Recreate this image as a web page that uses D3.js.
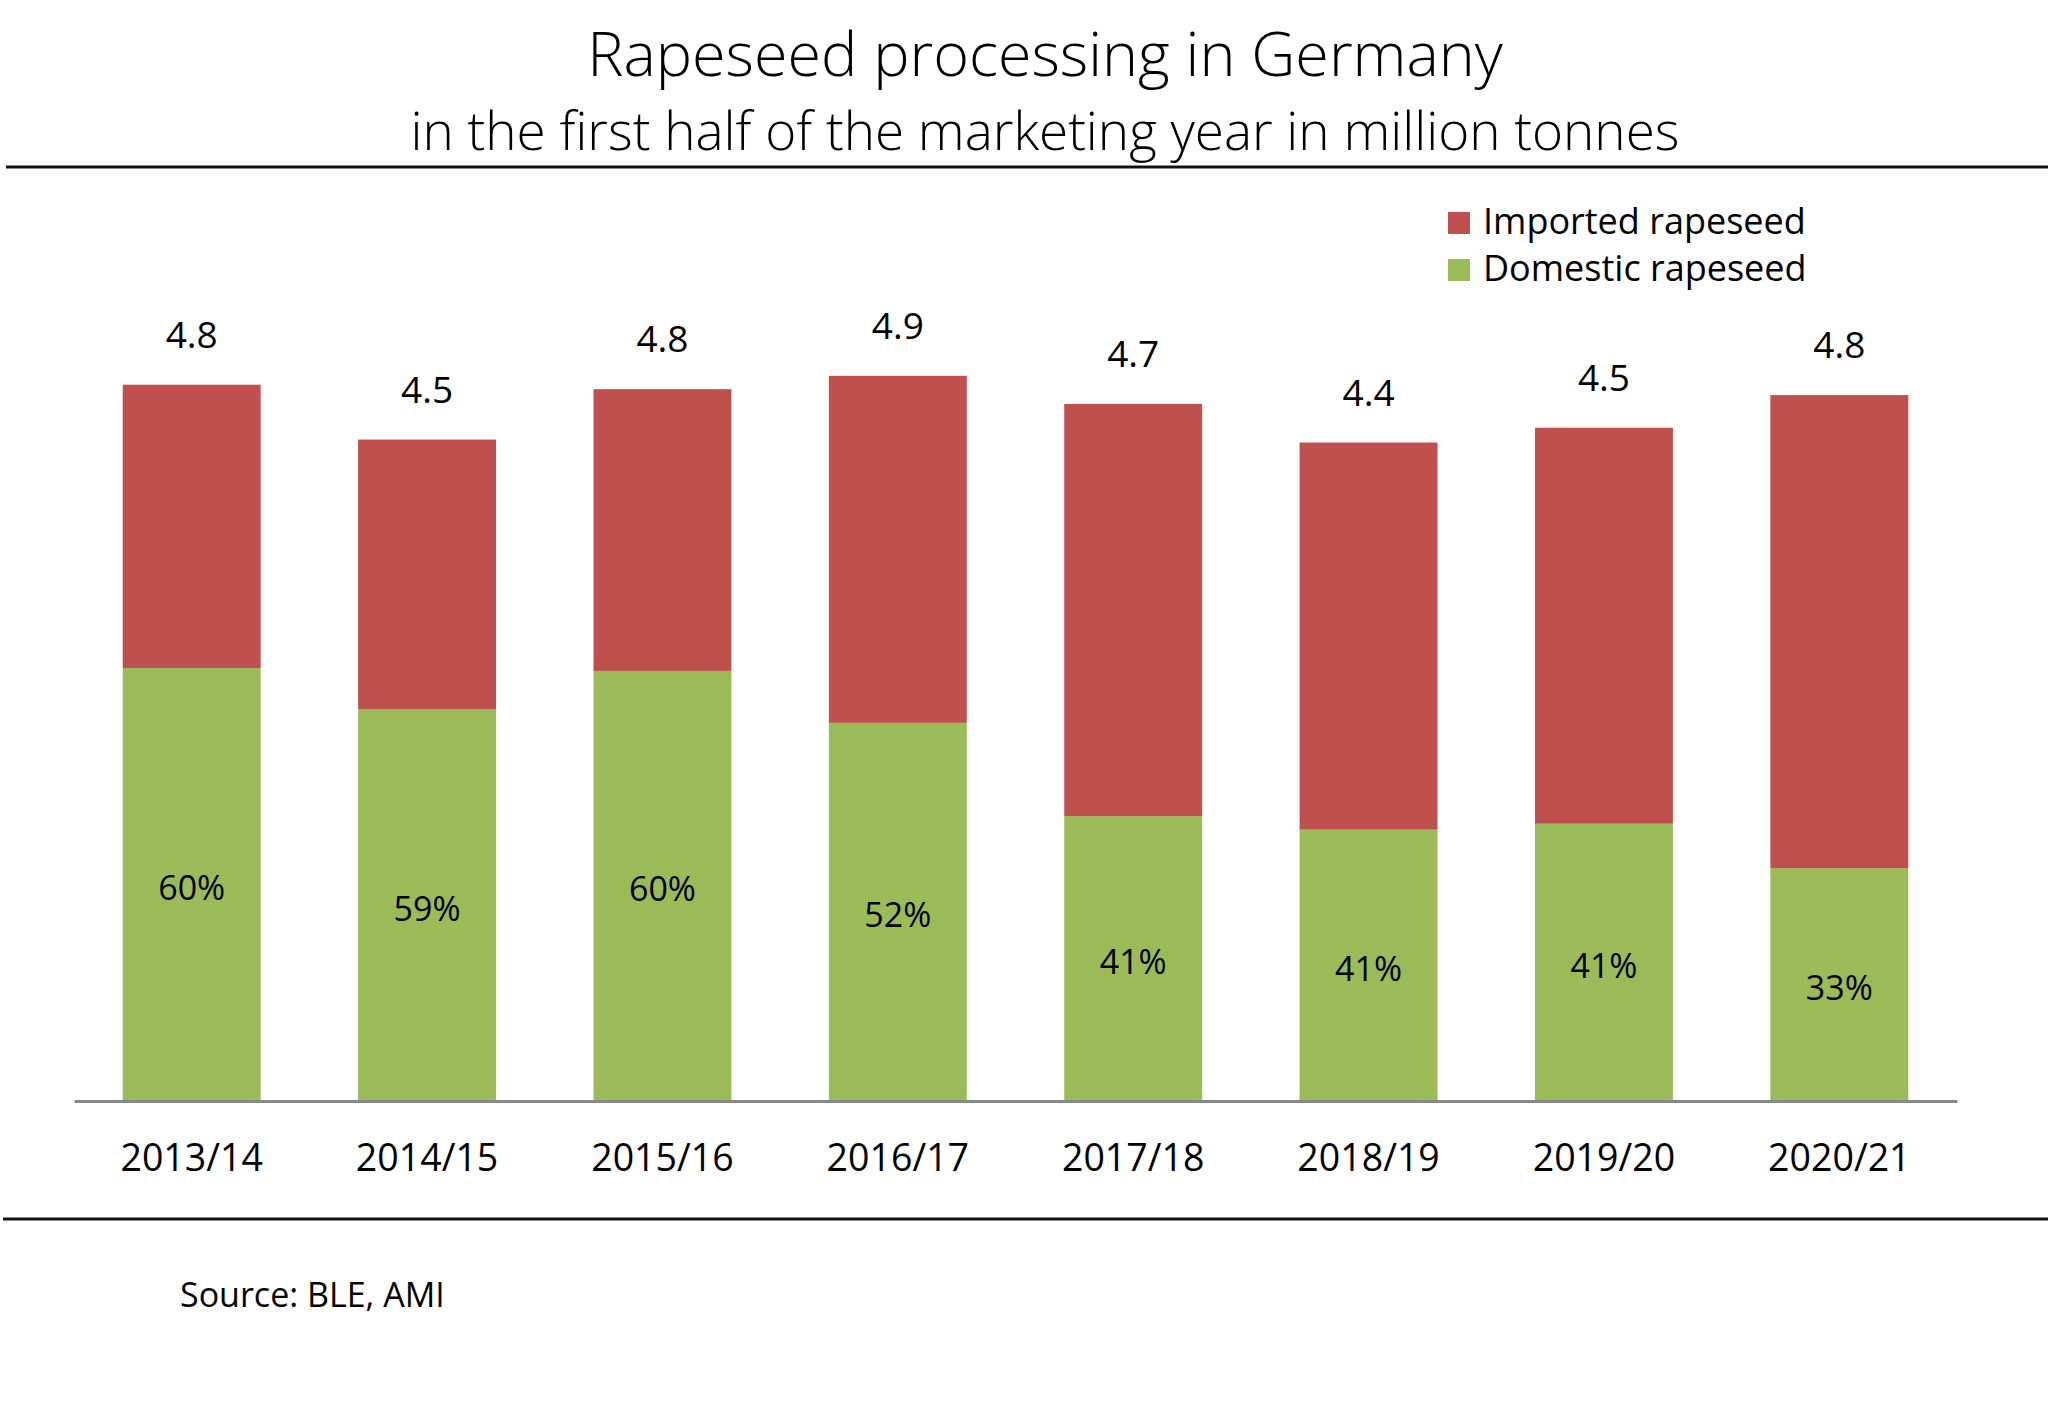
<!DOCTYPE html>
<html>
<head>
<meta charset="utf-8">
<script src="https://cdn.jsdelivr.net/npm/d3@7"></script>
<style>
  body { margin: 0; background: #fff; }
  svg { display: block; font-family: "Open Sans", sans-serif; }
</style>
</head>
<body>
<div id="chart"></div>
<script>
// Marketing years (x categories)
const years = ["2013/14", "2014/15", "2015/16", "2016/17", "2017/18", "2018/19", "2019/20", "2020/21"];

// Million tonnes processed
const domestic = [2.92, 2.64, 2.90, 2.55, 1.92, 1.83, 1.87, 1.57];
const imported = [1.91, 1.82, 1.90, 2.34, 2.78, 2.61, 2.67, 3.19];

const seriesNames = ["Domestic rapeseed", "Imported rapeseed"];
const legendOrder = ["Imported rapeseed", "Domestic rapeseed"];

const width = 2048, height = 1407;
const colors = { "Domestic rapeseed": "#9bbb59", "Imported rapeseed": "#c0504d" };

const svg = d3.select("#chart").append("svg")
    .attr("width", width)
    .attr("height", height);

svg.append("rect").attr("width", width).attr("height", height).attr("fill", "#fff");

// Title block
svg.append("text")
    .attr("x", 1045).attr("y", 76)
    .attr("text-anchor", "middle")
    .style("font-size", "61px").style("font-weight", 300)
    .text("Rapeseed processing in Germany");

svg.append("text")
    .attr("x", 1045).attr("y", 150)
    .attr("text-anchor", "middle")
    .style("font-size", "53px").style("font-weight", 300)
    .text("in the first half of the marketing year in million tonnes");

svg.append("line")
    .attr("x1", 6).attr("x2", width).attr("y1", 167).attr("y2", 167)
    .attr("stroke", "#111").attr("stroke-width", 3);

// Scales
const x = d3.scaleBand()
    .domain(years)
    .range([74, 1957])
    .paddingInner(0.414)
    .paddingOuter(0.207);

const y = d3.scaleLinear()
    .domain([0, 5])
    .range([1101, 1101 - 5 * 148.3]);

// Stack domestic at the bottom, imported on top
const rows = years.map((yr, i) => ({
    year: yr,
    "Domestic rapeseed": domestic[i],
    "Imported rapeseed": imported[i]
}));
const stacked = d3.stack().keys(seriesNames)(rows);

svg.append("g")
    .selectAll("g")
    .data(stacked)
    .join("g")
    .attr("fill", (d) => colors[d.key])
    .selectAll("rect")
    .data((d) => d)
    .join("rect")
    .attr("x", (d) => x(d.data.year))
    .attr("width", x.bandwidth())
    .attr("y", (d) => y(d[1]))
    .attr("height", (d) => y(d[0]) - y(d[1]));

// Totals above bars
const fmt = d3.format(".1f");
svg.append("g")
    .selectAll("text")
    .data(rows)
    .join("text")
    .attr("x", (d) => x(d.year) + x.bandwidth() / 2)
    .attr("y", (d) => y(d["Domestic rapeseed"] + d["Imported rapeseed"]) - 37)
    .attr("text-anchor", "middle")
    .style("font-size", "37px")
    .text((d) => fmt(d["Domestic rapeseed"] + d["Imported rapeseed"]));

// Domestic share inside green segment
svg.append("g")
    .selectAll("text")
    .data(rows)
    .join("text")
    .attr("x", (d) => x(d.year) + x.bandwidth() / 2)
    .attr("y", (d) => (y(0) + y(d["Domestic rapeseed"])) / 2)
    .attr("dy", "0.45em")
    .attr("text-anchor", "middle")
    .style("font-size", "34px")
    .text((d) => Math.round(d["Domestic rapeseed"] / (d["Domestic rapeseed"] + d["Imported rapeseed"]) * 100) + "%");

// X axis
const xAxis = svg.append("g")
    .attr("transform", `translate(0,${y(0)})`)
    .call(d3.axisBottom(x).tickSize(0).tickSizeOuter(0).tickPadding(43));

xAxis.select(".domain").attr("stroke", "#888").attr("stroke-width", 3);
xAxis.selectAll("text")
    .attr("fill", "#000")
    .style("font-size", "37.5px")
    .style("font-family", "'Open Sans', sans-serif");

// Legend
const legend = svg.append("g");
legendOrder.forEach((name, i) => {
    const item = legend.append("g").attr("transform", `translate(1448, ${212 + i * 47})`);
    item.append("rect")
        .attr("width", 22).attr("height", 22)
        .attr("fill", colors[name]);
    item.append("text")
        .attr("x", 35).attr("y", 22)
        .style("font-size", "36px")
        .text(name);
});

// Bottom rule and source
svg.append("line")
    .attr("x1", 3).attr("x2", width).attr("y1", 1219).attr("y2", 1219)
    .attr("stroke", "#111").attr("stroke-width", 3);

svg.append("text")
    .attr("x", 180).attr("y", 1307)
    .style("font-size", "34px")
    .text("Source: BLE, AMI");
</script>
</body>
</html>
